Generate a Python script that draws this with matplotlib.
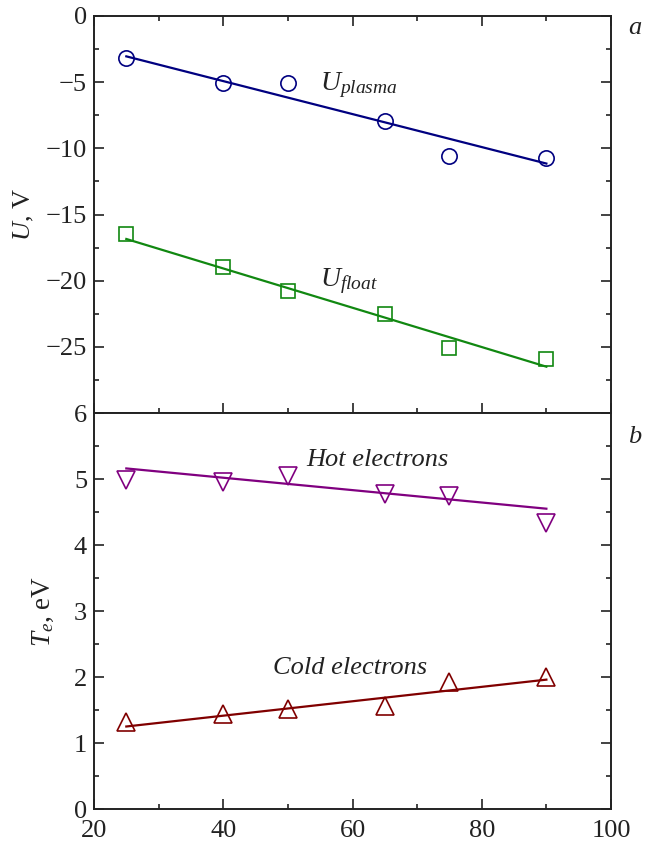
import matplotlib
matplotlib.use("Agg")
import matplotlib.pyplot as plt
from matplotlib.ticker import MultipleLocator

plt.rcParams['font.family'] = ['Liberation Serif', 'DejaVu Serif']
plt.rcParams['mathtext.fontset'] = 'custom'
plt.rcParams['mathtext.rm'] = 'Liberation Serif'
plt.rcParams['mathtext.it'] = 'Liberation Serif:italic'
plt.rcParams['axes.unicode_minus'] = True

# Data
x_vals = [25, 40, 50, 65, 75, 90]
u_plasma = [-3.2, -5.1, -5.1, -7.9, -10.6, -10.7]
u_float = [-16.5, -19.0, -20.8, -22.5, -25.1, -25.9]
te_hot = [4.99, 4.95, 5.05, 4.77, 4.75, 4.33]
te_cold = [1.32, 1.44, 1.52, 1.56, 1.92, 2.0]

fit_x = [25, 90]
fit_plasma = [-3.05, -11.15]
fit_float = [-16.85, -26.5]
fit_hot = [5.16, 4.55]
fit_cold = [1.25, 1.96]

c_plasma = '#000080'
c_float = '#118811'
c_hot = '#800080'
c_cold = '#800000'
c_text = '#222222'

W, H = 653, 843
fig = plt.figure(figsize=(W/100, H/100), dpi=100)

left = 94 / W
right = 611 / W
ax1 = fig.add_axes([left, 1 - 413/H, right - left, (413 - 16)/H])
ax2 = fig.add_axes([left, 1 - 809/H, right - left, (809 - 413)/H])

ms = 11
lw = 1.6

ax1.plot(fit_x, fit_plasma, color=c_plasma, lw=lw)
ax1.plot(x_vals, u_plasma, 'o', mfc='none', mec=c_plasma, ms=ms, mew=1.2)
ax1.plot(fit_x, fit_float, color=c_float, lw=lw)
ax1.plot(x_vals, u_float, 's', mfc='none', mec=c_float, ms=ms - 1, mew=1.2)

ax2.plot(fit_x, fit_hot, color=c_hot, lw=lw)
ax2.plot(x_vals, te_hot, 'v', mfc='none', mec=c_hot, ms=ms + 2, mew=1.2)
ax2.plot(fit_x, fit_cold, color=c_cold, lw=lw)
ax2.plot(x_vals, te_cold, '^', mfc='none', mec=c_cold, ms=ms + 2, mew=1.2)

ax1.set_xlim(20, 100)
ax1.set_ylim(-30, 0)
ax2.set_xlim(20, 100)
ax2.set_ylim(0, 6)

fs = 19
for ax in (ax1, ax2):
    for sp in ax.spines.values():
        sp.set_linewidth(1.4)
        sp.set_color(c_text)
    ax.xaxis.set_major_locator(MultipleLocator(20))
    ax.xaxis.set_minor_locator(MultipleLocator(10))
    ax.tick_params(which='both', direction='in', left=True, right=True,
                   width=1.2, color=c_text, labelsize=fs, labelcolor=c_text)
    ax.tick_params(which='major', length=7)
    ax.tick_params(which='minor', length=3.5)
    ax.tick_params(axis='y', pad=5)

ax1.set_yticks([0, -5, -10, -15, -20, -25])
ax1.yaxis.set_minor_locator(MultipleLocator(2.5))
ax1.tick_params(which='both', top=True, bottom=True, labelbottom=False)

ax2.yaxis.set_major_locator(MultipleLocator(1))
ax2.yaxis.set_minor_locator(MultipleLocator(0.5))
ax2.tick_params(which='both', top=False, bottom=True)
ax2.tick_params(axis='x', pad=8)

ax1.set_ylabel('$U$, V', fontsize=fs, color=c_text)
ax1.yaxis.set_label_coords(-0.112, 0.5)
ax2.set_ylabel('$T_e$, eV', fontsize=fs + 0.5, color=c_text)
ax2.yaxis.set_label_coords(-0.074, 0.5)

afs = 19
ax1.text(55.0, -5.2, '$U_{plasma}$', fontsize=afs + 1, color=c_text,
         ha='left', va='center')
ax1.text(55.0, -20.0, '$U_{float}$', fontsize=afs + 1, color=c_text,
         ha='left', va='center')
ax2.text(63.9, 5.29, 'Hot electrons', fontsize=afs, style='italic',
         color=c_text, ha='center', va='center')
ax2.text(59.6, 2.14, 'Cold electrons', fontsize=afs, style='italic',
         color=c_text, ha='center', va='center')

fig.text(635/W, 1 - 28/H, 'a', fontsize=afs, style='italic',
         ha='center', va='center', color=c_text)
fig.text(635/W, 1 - 437/H, 'b', fontsize=afs, style='italic',
         ha='center', va='center', color=c_text)

fig.savefig('out.png', dpi=100)
